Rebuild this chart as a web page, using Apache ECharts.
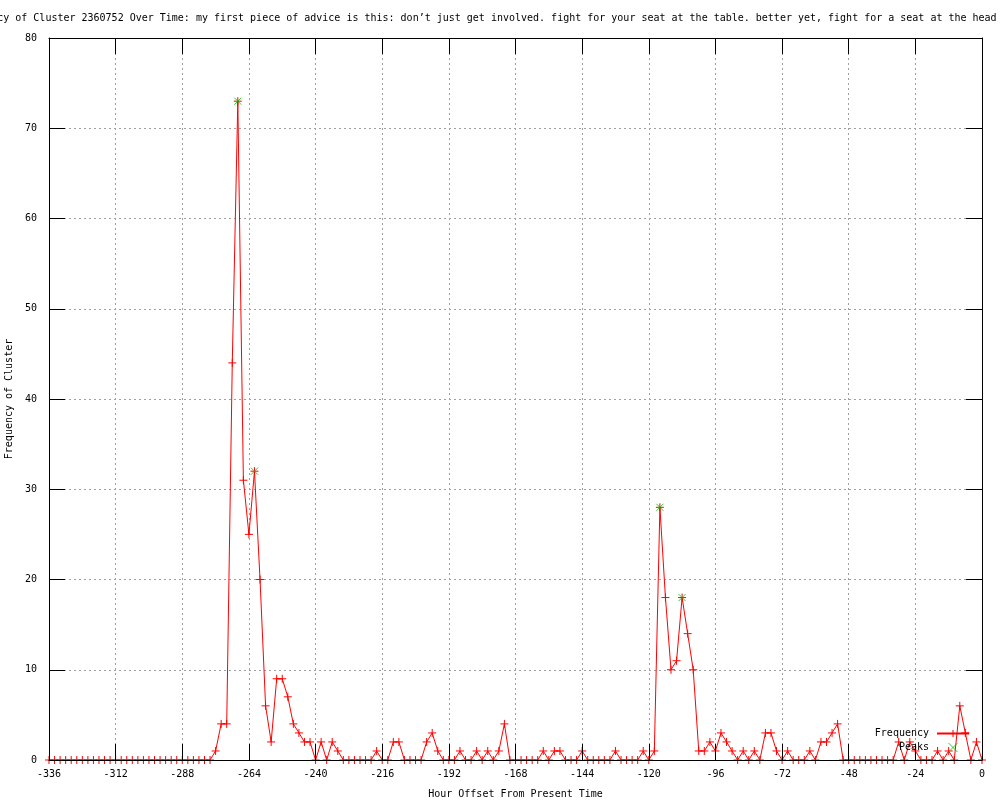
<!DOCTYPE html>
<html>
<head>
<meta charset="utf-8">
<script src="https://cdn.jsdelivr.net/npm/echarts@6/dist/echarts.min.js"></script>
<style>
html,body{margin:0;padding:0;background:#fff;}
#chart{width:1000px;height:800px;}
</style>
</head>
<body>
<div id="chart"></div>
<script>
const titleText = 'Frequency of Cluster 2360752 Over Time: my first piece of advice is this: don\u2019t just get involved. fight for your seat at the table. better yet, fight for a seat at the head of the table.';
const xAxisName = 'Hour Offset From Present Time';
const yAxisName = 'Frequency of Cluster';
const seriesNames = ['Frequency', 'Peaks'];

const hours = [
  -336,-334,-332,-330,-328,-326,-324,-322,-320,-318,-316,-314,
  -312,-310,-308,-306,-304,-302,-300,-298,-296,-294,-292,-290,
  -288,-286,-284,-282,-280,-278,-276,-274,-272,-270,-268,-266,
  -264,-262,-260,-258,-256,-254,-252,-250,-248,-246,-244,-242,
  -240,-238,-236,-234,-232,-230,-228,-226,-224,-222,-220,-218,
  -216,-214,-212,-210,-208,-206,-204,-202,-200,-198,-196,-194,
  -192,-190,-188,-186,-184,-182,-180,-178,-176,-174,-172,-170,
  -168,-166,-164,-162,-160,-158,-156,-154,-152,-150,-148,-146,
  -144,-142,-140,-138,-136,-134,-132,-130,-128,-126,-124,-122,
  -120,-118,-116,-114,-112,-110,-108,-106,-104,-102,-100,-98,
  -96,-94,-92,-90,-88,-86,-84,-82,-80,-78,-76,-74,
  -72,-70,-68,-66,-64,-62,-60,-58,-56,-54,-52,-50,
  -48,-46,-44,-42,-40,-38,-36,-34,-32,-30,-28,-26,
  -24,-22,-20,-18,-16,-14,-12,-10,-8,-6,-4,-2,
  0
];

const frequency = [
  0,0,0,0,0,0,0,0,0,0,0,0,
  0,0,0,0,0,0,0,0,0,0,0,0,
  0,0,0,0,0,0,1,4,4,44,73,31,
  25,32,20,6,2,9,9,7,4,3,2,2,
  0,2,0,2,1,0,0,0,0,0,0,1,
  0,0,2,2,0,0,0,0,2,3,1,0,
  0,0,1,0,0,1,0,1,0,1,4,0,
  0,0,0,0,0,1,0,1,1,0,0,0,
  1,0,0,0,0,0,1,0,0,0,0,1,
  0,1,28,18,10,11,18,14,10,1,1,2,
  1,3,2,1,0,1,0,1,0,3,3,1,
  0,1,0,0,0,1,0,2,2,3,4,0,
  0,0,0,0,0,0,0,0,0,2,0,2,
  1,0,0,0,1,0,1,0,6,3,0,2,
  0
];

const peakHours = [-268, -262, -116, -108];
const peakValues = [73, 32, 28, 18];

const FONT = '"DejaVu Sans Mono", "Liberation Mono", monospace';

const chart = echarts.init(document.getElementById('chart'), null, {renderer: 'canvas'});

const xCommon = {type: 'value', min: -336, max: 0, interval: 24};
const yCommon = {type: 'value', min: 0, max: 80, interval: 10};
const black = {color: '#000', width: 1};

const option = {
  animation: false,
  backgroundColor: '#ffffff',
  textStyle: {fontFamily: FONT, fontSize: 10, color: '#000'},
  grid: {left: 49, right: 18, top: 38, bottom: 40, containLabel: false, outerBoundsMode: 'none'},
  graphic: [{
    type: 'text', x: 518, y: 18, z: 10,
    style: {text: titleText, font: '10px ' + FONT, fill: '#000', align: 'center', verticalAlign: 'middle'}
  }],
  legend: {
    orient: 'vertical', right: 30, top: 728.5, padding: 0,
    itemWidth: 32, itemHeight: 9, itemGap: 4, align: 'right',
    selectedMode: false,
    data: seriesNames,
    itemStyle: {borderWidth: 1},
    textStyle: {fontFamily: FONT, fontSize: 10, color: '#000', padding: [0, 3, 0, 0]}
  },
  xAxis: [
    Object.assign({}, xCommon, {
      position: 'bottom', z: 3,
      axisLine: {show: true, onZero: false, lineStyle: black},
      axisTick: {show: true, inside: true, length: 16, lineStyle: black},
      axisLabel: {show: true, margin: 9, color: '#000', fontFamily: FONT, fontSize: 10},
      splitLine: {show: false},
      name: xAxisName, nameLocation: 'middle', nameGap: 29,
      nameTextStyle: {fontFamily: FONT, fontSize: 10, color: '#000'}
    }),
    Object.assign({}, xCommon, {
      position: 'top', z: 3,
      axisLine: {show: true, onZero: false, lineStyle: black},
      axisTick: {show: true, inside: true, length: 16, lineStyle: black},
      axisLabel: {show: false},
      splitLine: {show: false}
    }),
    Object.assign({}, xCommon, {
      position: 'bottom', z: 0,
      axisLine: {show: false}, axisTick: {show: false}, axisLabel: {show: false},
      splitLine: {show: true, lineStyle: {color: '#a0a0a0', width: 1, type: [2, 3]}}
    })
  ],
  yAxis: [
    Object.assign({}, yCommon, {
      position: 'left', z: 3,
      axisLine: {show: true, onZero: false, lineStyle: black},
      axisTick: {show: true, inside: true, length: 16, lineStyle: black},
      axisLabel: {show: true, margin: 12, color: '#000', fontFamily: FONT, fontSize: 10},
      splitLine: {show: false},
      name: yAxisName, nameLocation: 'middle', nameGap: 27,
      nameTextStyle: {fontFamily: FONT, fontSize: 10, color: '#000'}
    }),
    Object.assign({}, yCommon, {
      position: 'right', z: 3,
      axisLine: {show: true, onZero: false, lineStyle: black},
      axisTick: {show: true, inside: true, length: 16, lineStyle: black},
      axisLabel: {show: false},
      splitLine: {show: false}
    }),
    Object.assign({}, yCommon, {
      position: 'left', z: 0,
      axisLine: {show: false}, axisTick: {show: false}, axisLabel: {show: false},
      splitLine: {show: true, lineStyle: {color: '#a0a0a0', width: 1, type: [2, 3]}}
    })
  ],
  series: [
    {
      type: 'line', name: seriesNames[0], xAxisIndex: 0, yAxisIndex: 0,
      data: hours.map((h, i) => [h, frequency[i]]),
      symbol: 'path://M0,-4L0,4M-4,0L4,0', symbolSize: 8,
      showSymbol: true, showAllSymbol: true,
      lineStyle: {color: '#ff0000', width: 1},
      itemStyle: {color: '#ff0000', borderColor: '#ff0000', borderWidth: 1},
      emphasis: {disabled: true},
      z: 2
    },
    {
      type: 'scatter', name: seriesNames[1], xAxisIndex: 0, yAxisIndex: 0,
      data: peakHours.map((h, i) => [h, peakValues[i]]),
      symbol: 'path://M-1,-1L1,1M-1,1L1,-1', symbolSize: 7,
      itemStyle: {color: '#00c000', borderColor: '#00c000', borderWidth: 1},
      emphasis: {disabled: true},
      z: 2.5
    }
  ]
};
chart.setOption(option);
</script>
</body>
</html>
